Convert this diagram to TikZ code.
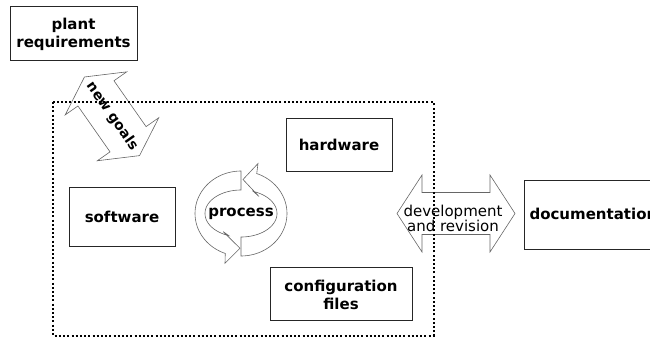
\documentclass[tikz,border=0pt]{standalone}
\usepackage{fontspec}
\setmainfont{DejaVu Sans}
\begin{document}
\begin{tikzpicture}[x=1pt,y=-1pt,
  box/.style={draw=black!85, line width=0.8pt, fill=white, inner sep=0pt},
  boxtext/.style={font=\fontsize{15}{18}\selectfont\bfseries, align=center},
  arrowline/.style={draw=black!60, line width=0.6pt, line join=miter},
  ringline/.style={draw=black!60, line width=0.6pt, fill=white},
  dotbox/.style={draw=black, line width=2pt, dash pattern=on 2pt off 2.2pt}
]
\useasboundingbox (0,0) rectangle (650,340);
\clip (0,0) rectangle (650,340);

% boxes
\draw[box] (10,6) rectangle (137,60);
\node[boxtext] (plant) at (73.5,34) {plant\\requirements};
\draw[box] (286,118) rectangle (392,171);
\node[boxtext] (hw) at (339,144.5) {hardware};
\draw[box] (69,187) rectangle (175,246);
\node[boxtext] (sw) at (122,216.5) {software};
\draw[box] (270,267) rectangle (412,320);
\node[boxtext] (cfg) at (341,294.5) {configuration\\files};
\draw[box] (524,180) rectangle (670,249);
\node[boxtext, anchor=west] (doc) at (526,214) {documentation};

% new goals double arrow
\begin{scope}[shift={(112,116.3)}, rotate=-55]
  \draw[arrowline] (48,0) -- (28,37.5) -- (28,22) -- (-28,22) -- (-28,37.5)
    -- (-48,0) -- (-28,-37.5) -- (-28,-22) -- (28,-22) -- (28,-37.5) -- cycle;
\end{scope}
\node[font=\fontsize{14}{16}\selectfont\bfseries, rotate=-55] (goals) at (112,116.3) {new goals};

% development and revision double arrow
\begin{scope}[shift={(456,213.5)}]
  \draw[arrowline] (59,0) -- (34,38.5) -- (34,21) -- (-34,21) -- (-34,38.5)
    -- (-59,0) -- (-34,-38.5) -- (-34,-21) -- (34,-21) -- (34,-38.5) -- cycle;
\end{scope}
\node[font=\fontsize{15}{15.5}\selectfont, align=center] (dev) at (453,218.5) {development\\and revision};

% process ring
\draw[ringline]
  plot[domain=90:250, samples=40, smooth] ({241+46*cos(\x)},{213.5-42.5*sin(\x)})
  -- (225,263.3) -- (240,248.3) -- (223.3,231.7)
  -- plot[domain=250:90, samples=40, smooth] ({241+36*cos(\x)},{213.5-23.5*sin(\x)})
  -- cycle;
\draw[ringline]
  plot[domain=270:430, samples=40, smooth] ({241+46*cos(\x)},{213.5-42.5*sin(\x)})
  -- (258,163.5) -- (243,179.5) -- (259,196.5)
  -- plot[domain=430:270, samples=40, smooth] ({241+36*cos(\x)},{213.5-23.5*sin(\x)})
  -- cycle;
\node[boxtext] (proc) at (241,214) {process};

% dotted frame
\draw[dotbox] (53,102) rectangle (433.5,335.5);
\end{tikzpicture}
\end{document}
